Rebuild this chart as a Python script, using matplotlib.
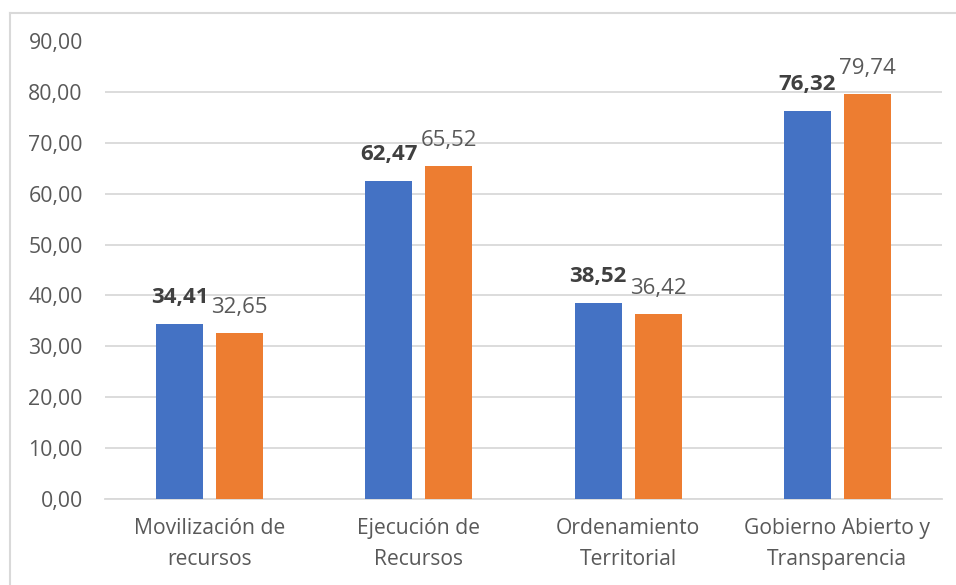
import matplotlib
matplotlib.use("Agg")
import matplotlib.pyplot as plt
from matplotlib.lines import Line2D
import numpy as np

categories = ["Movilización de\nrecursos", "Ejecución de\nRecursos",
              "Ordenamiento\nTerritorial", "Gobierno Abierto y\nTransparencia"]
serie_azul = [34.41, 62.47, 38.52, 76.32]
serie_naranja = [32.65, 65.52, 36.42, 79.74]
yticks = [0, 10, 20, 30, 40, 50, 60, 70, 80, 90]

AZUL = "#4472C4"
NARANJA = "#ED7D31"
GRIS_TXT = "#595959"
GRIS_LINEA = "#D9D9D9"

plt.rcParams["font.family"] = ["Open Sans", "DejaVu Sans"]


def coma(v):
    return "{:.2f}".format(v).replace(".", ",")


fig = plt.figure(figsize=(9.56, 5.85), dpi=100)
ax = fig.add_axes([105 / 956, 1 - 498.5 / 585, 837 / 956, 457 / 585])

x = np.arange(len(categories))
ancho = 0.225
sep = 0.031
b1 = ax.bar(x - ancho / 2 - sep, serie_azul, ancho, color=AZUL, zorder=3)
b2 = ax.bar(x + ancho / 2 + sep, serie_naranja, ancho, color=NARANJA, zorder=3)

for rect, v in zip(b1, serie_azul):
    ax.annotate(coma(v), (rect.get_x() + rect.get_width() / 2, v),
                xytext=(0, 19), textcoords="offset points", ha="center", va="center",
                fontsize=16, fontweight="bold", color="#404040")
for rect, v in zip(b2, serie_naranja):
    ax.annotate(coma(v), (rect.get_x() + rect.get_width() / 2, v),
                xytext=(0, 18), textcoords="offset points", ha="center", va="center",
                fontsize=16, color=GRIS_TXT)

ax.set_xlim(-0.5, len(categories) - 0.5)
ax.set_ylim(0, 90)
ax.set_yticks(yticks)
ax.set_yticklabels([coma(t) for t in yticks])
ax.set_xticks(x)
ax.set_xticklabels(categories, linespacing=1.65)
ax.tick_params(axis="y", length=0, pad=16, labelsize=15.3, labelcolor=GRIS_TXT)
ax.tick_params(axis="x", length=0, pad=14, labelsize=15.2, labelcolor=GRIS_TXT)
ax.grid(axis="y", color=GRIS_LINEA, linewidth=1.3, zorder=0)
for s in ["top", "right", "left"]:
    ax.spines[s].set_visible(False)
ax.spines["bottom"].set_color(GRIS_LINEA)
ax.spines["bottom"].set_linewidth(1.3)

# borde del gráfico (sólo se ven el lado izquierdo y el superior)
W, H = 956, 585
fig.add_artist(Line2D([10 / W, 1], [1 - 13 / H, 1 - 13 / H], color=GRIS_LINEA, linewidth=1.5))
fig.add_artist(Line2D([10 / W, 10 / W], [0, 1 - 13 / H], color=GRIS_LINEA, linewidth=1.5))

fig.savefig("out.png", dpi=100)
